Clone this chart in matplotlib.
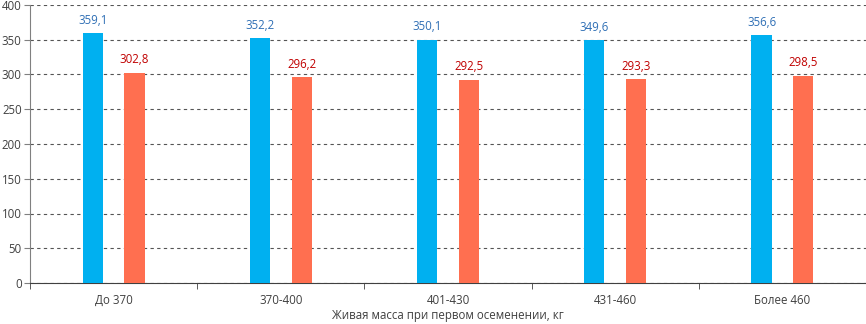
import matplotlib
matplotlib.use('Agg')
import matplotlib.pyplot as plt
import numpy as np

plt.rcParams['font.family'] = ['Open Sans', 'DejaVu Sans']

categories = ['До 370', '370-400', '401-430', '431-460', 'Более 460']
series_blue = [359.1, 352.2, 350.1, 349.6, 356.6]
series_red = [302.8, 296.2, 292.5, 293.3, 298.5]

fig = plt.figure(figsize=(8.66, 3.24), dpi=100)
ax = fig.add_axes([30 / 866, 41 / 324, 836 / 866, 278 / 324])

x = np.arange(len(categories))
w = 0.12
ax.bar(x - 0.125, series_blue, w, color='#00B0F0', zorder=3)
ax.bar(x + 0.125, series_red, w, color='#FF6F50', zorder=3)

fs = 8.3
for xi, v in zip(x, series_blue):
    ax.text(xi - 0.125, v + 9, f'{v:.1f}'.replace('.', ','), ha='center', va='bottom',
            fontsize=fs, color='#2F6FB5')
for xi, v in zip(x, series_red):
    ax.text(xi + 0.125, v + 9, f'{v:.1f}'.replace('.', ','), ha='center', va='bottom',
            fontsize=fs, color='#C00000')

ax.set_xlim(-0.5, len(categories) - 0.5)
ax.set_ylim(0, 400)
ax.set_yticks(range(0, 401, 50))
ax.set_xticks(x)
ax.set_xticklabels(categories, fontsize=fs, color='#404040')
ax.set_xticks(np.arange(-0.5, len(categories), 1), minor=True)
ax.tick_params(axis='x', which='major', length=0, pad=8)
ax.tick_params(axis='x', which='minor', length=4, color='#404040')
ax.tick_params(axis='y', length=4, labelsize=fs, labelcolor='#404040', color='#808080', pad=2)

ax.yaxis.grid(True, linestyle=(0, (3, 3)), color='#555555', linewidth=0.8, zorder=0)
ax.spines['top'].set_visible(False)
ax.spines['right'].set_visible(False)
ax.spines['left'].set_color('#808080')
ax.spines['bottom'].set_color('#404040')

ax.set_xlabel('Живая масса при первом осеменении, кг', fontsize=fs, color='#404040', labelpad=1)

fig.savefig('out.png', dpi=100)
